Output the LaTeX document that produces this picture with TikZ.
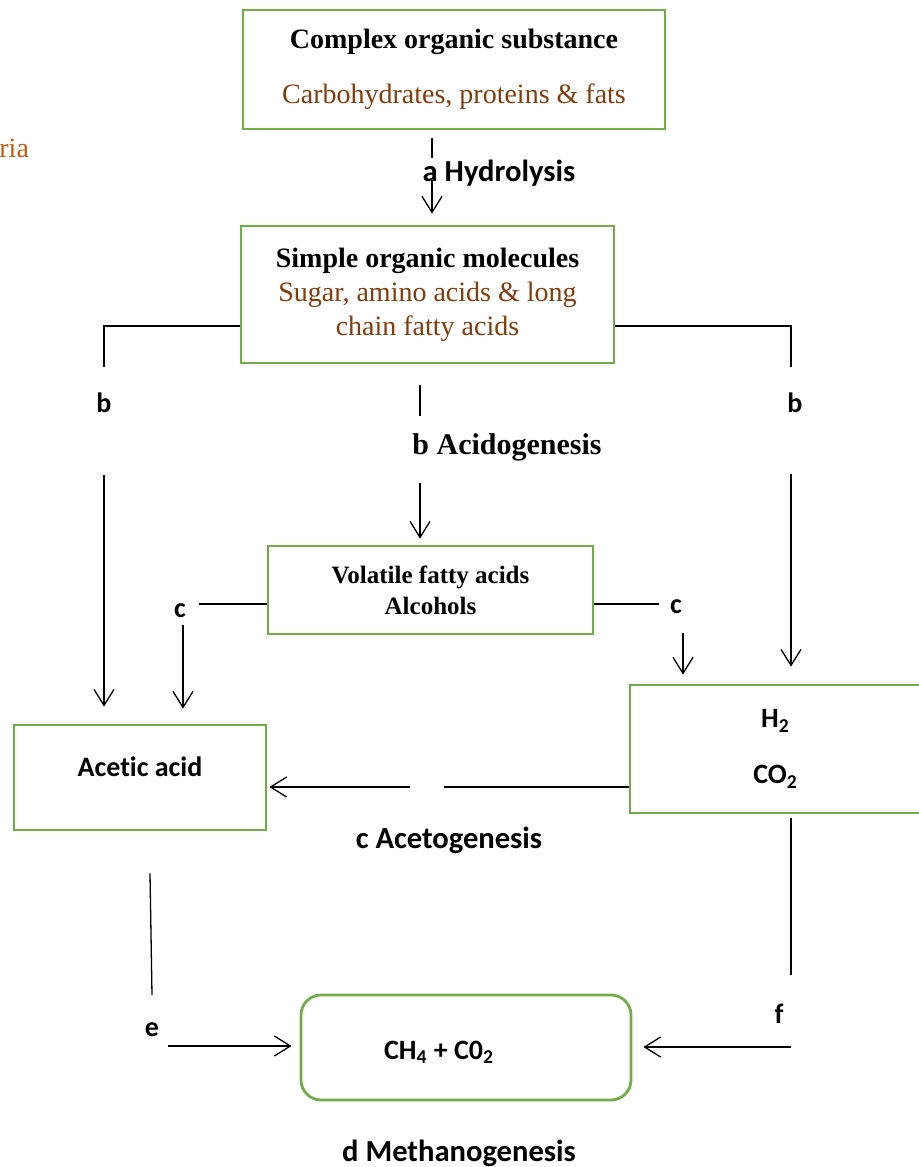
\documentclass[tikz,border=0pt]{standalone}
\usepackage{fontspec}
\setmainfont{Liberation Serif}
\newfontfamily\calibri[Ligatures=NoCommon]{Carlito}
\usetikzlibrary{calc}
\usetikzlibrary{positioning}
\usetikzlibrary{arrows.meta}
\definecolor{boxgreen}{HTML}{70AD47}
\definecolor{darkbrown}{HTML}{843C0C}
\definecolor{rustorange}{HTML}{C55A11}

\begin{document}
\begin{tikzpicture}[x=0.5pt,y=-0.5pt]
\tikzstyle{box}=[rectangle,align=center,draw=boxgreen,line width=1.4pt,fill=white,inner sep=0pt]
\tikzstyle{lbl}=[inner sep=0pt,font=\calibri\bfseries\fontsize{15.3}{18}\selectfont]
\tikzstyle{arr}=[-{Straight Barb[length=8pt,width=10pt]}]
\tikzstyle{con}=[line width=0.65pt]
\useasboundingbox (0,0) rectangle (919,1167);

\node[anchor=base west,inner sep=0pt,text=rustorange,font=\fontsize{14}{17}\selectfont] (bact) at (-1,157) {ria};

% boxes
\node[box,minimum width=211pt,minimum height=59.5pt,font=\fontsize{14}{17}\selectfont] at(454, 69.5) (complex) {\textbf{Complex organic substance}\\[10.5pt]
                         \textcolor{darkbrown}{Carbohydrates, proteins \& fats}};
\node[box,minimum width=186.5pt,minimum height=68.5pt,font=\fontsize{14}{17}\selectfont] at(427.5, 294.5) (simple) {\textbf{Simple organic molecules}\\
                         \textcolor{darkbrown}{Sugar, amino acids \& long}\\
                         \textcolor{darkbrown}{chain fatty acids}};
\node[box,minimum width=162.5pt,minimum height=44pt,font=\bfseries\fontsize{12.5}{15.5}\selectfont] at(430.5, 590) (vfa) {Volatile fatty acids\\Alcohols};
\node[box,minimum width=126pt,minimum height=52.5pt] at(140, 777.5) (acetic) {};
\node[lbl,font=\calibri\bfseries\fontsize{14}{17}\selectfont] at(140, 767) (acetictxt) {Acetic acid};
\node[box,minimum width=145.5pt,minimum height=64pt,font=\calibri\bfseries\fontsize{14}{17}\selectfont] at(775.5, 749) (gases) {H\textsubscript{2}\\[11pt]CO\textsubscript{2}};
\node[box,rounded corners=10pt,minimum width=165pt,minimum height=52.5pt] at(466, 1047.5) (methane) {};
\node[lbl,font=\calibri\bfseries\fontsize{14}{17}\selectfont] at(439, 1052) (methanetxt) {CH\textsubscript{4} + C0\textsubscript{2}};

% stage labels
\node[lbl] at(499, 173) (hydro) {a Hydrolysis};
\node[lbl,font=\bfseries\fontsize{15}{18}\selectfont] at(507, 447) (acido) {b Acidogenesis};
\node[lbl] at(449, 840) (aceto) {c Acetogenesis};
\node[lbl] at(459, 1153) (metha) {d Methanogenesis};
\node[lbl,font=\calibri\bfseries\fontsize{14}{17}\selectfont] at(104, 403) (bleft) {b};
\node[lbl,font=\calibri\bfseries\fontsize{14}{17}\selectfont] at(795, 403) (bright) {b};
\node[lbl,font=\calibri\bfseries\fontsize{14}{17}\selectfont] at(180, 611) (cleft) {c};
\node[lbl,font=\calibri\bfseries\fontsize{14}{17}\selectfont] at(676, 607) (cright) {c};
\node[lbl,font=\calibri\bfseries\fontsize{14}{17}\selectfont] at(152, 1030) (eleft) {e};
\node[lbl,font=\calibri\bfseries\fontsize{14}{17}\selectfont] at(779, 1014) (fright) {f};

% free ends
\coordinate (hydrobot) at (432, 180);
\coordinate (bltop) at (104, 367);
\coordinate (blbot) at (104, 475);
\coordinate (brtop) at (791, 367);
\coordinate (brbot) at (791, 474);
\coordinate (acidotop) at (420, 385);
\coordinate (acidobot) at (420, 483);
\coordinate (cltop) at (199, 604);
\coordinate (clbot) at (183, 625);
\coordinate (crtop) at (659, 604);
\coordinate (crbot) at (683, 633);
\coordinate (acetoright) at (444, 787);
\coordinate (acetoleft) at (410, 787);
\coordinate (etop) at (152, 995);
\coordinate (ebot) at (168, 1046);
\coordinate (ftop) at (791, 975);
\coordinate (fbot) at (791, 1047);

% connectors
\draw[con] ($(complex.south)+(-22,8)$) -- ++(0,20);
\draw[con,arr,shorten >=5.5pt] (hydrobot) -- (hydrobot |- simple.north);
\draw[con] ($(simple.west)+(0,31.5)$) -| (bltop);
\draw[con,arr,shorten >=8.5pt] (blbot) -- (blbot |- acetic.north);
\draw[con] ($(simple.east)+(0,31.5)$) -| (brtop);
\draw[con,arr,shorten >=8.5pt] (brbot) -- (brbot |- gases.north);
\draw[con] (acidotop) -- ++(0,31);
\draw[con,arr,shorten >=3pt] (acidobot) -- (acidobot |- vfa.north);
\draw[con] ($(vfa.west)+(0,14)$) -- (cltop);
\draw[con,arr,shorten >=7.5pt] (clbot) -- (clbot |- acetic.north);
\draw[con] ($(vfa.east)+(0,14)$) -- (crtop);
\draw[con,arr,shorten >=4.5pt] (crbot) -- (crbot |- gases.north);
\draw[con] ($(gases.west)+(0,38)$) -- (acetoright);
\draw[con,arr,shorten >=1pt] (acetoleft) -- (acetoleft -| acetic.east);
\draw[con] ($(acetic.south)+(10,42)$) -- (etop);
\draw[con,arr,shorten >=4pt] (ebot) -- (ebot -| methane.west);
\draw[con] ($(gases.south)+(15.5,4)$) -- (ftop);
\draw[con,arr,shorten >=5.5pt] (fbot) -- (fbot -| methane.east);
\end{tikzpicture}
\end{document}
